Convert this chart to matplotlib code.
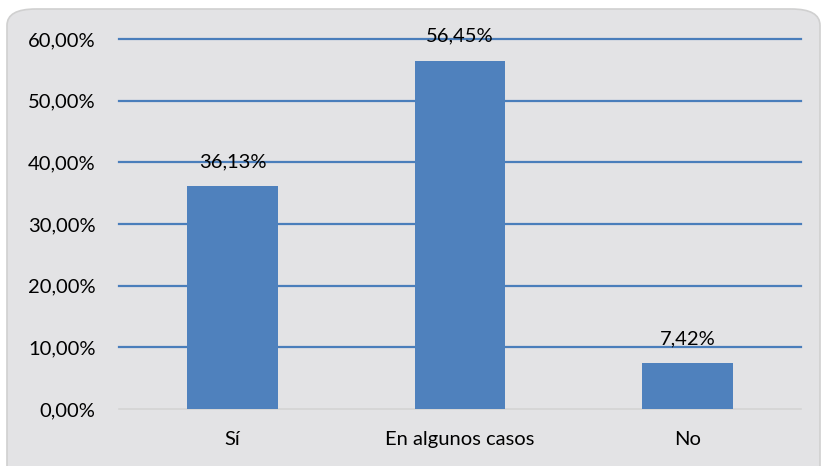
import matplotlib.pyplot as plt
from matplotlib.patches import FancyBboxPatch
from matplotlib.ticker import FuncFormatter

categories = ["Sí", "En algunos casos", "No"]
values = [36.13, 56.45, 7.42]
yticks = [0, 10, 20, 30, 40, 50, 60]

plt.rcParams['font.family'] = ['Lato', 'DejaVu Sans']

fig = plt.figure(figsize=(8.21, 4.66), dpi=100)
fig.patch.set_facecolor("white")

# chart area background (marble-ish grey) with rounded top corners
W, H = 821.0, 466.0
bg = FancyBboxPatch((7 / W, -0.05), (820 - 7) / W, 1 - 9 / H + 0.05,
                    boxstyle="round,pad=0,rounding_size=0.035",
                    transform=fig.transFigure, facecolor="#e3e3e5",
                    edgecolor="#d0d0d0", linewidth=1.2, zorder=-5)
fig.patches.append(bg)

ax = fig.add_axes([119 / W, 1 - 409 / H, (801 - 119) / W, (409 - 39) / H])
ax.set_facecolor("none")
ax.set_zorder(2)

x = range(len(categories))
ax.bar(x, values, width=0.4, color="#4f81bd", zorder=3)

ax.set_xlim(-0.5, 2.5)
ax.set_ylim(0, 60)
ax.set_yticks(yticks)
ax.yaxis.set_major_formatter(FuncFormatter(lambda v, p: f"{v:.2f}%".replace(".", ",")))
for t in yticks[1:]:
    ax.axhline(t, color="#4a7ebb", linewidth=1.6, zorder=1, clip_on=False)
ax.axhline(0, color="#d4d4d4", linewidth=1.2, zorder=2, clip_on=False)

ax.set_xticks(list(x))
ax.set_xticklabels(categories)
ax.tick_params(length=0, labelsize=14.5, colors="black")
ax.tick_params(axis="y", pad=17)
ax.tick_params(axis="x", pad=16)
for s in ax.spines.values():
    s.set_visible(False)

for i, v in enumerate(values):
    ax.text(i, v + 2.6, f"{v:.2f}%".replace(".", ","), ha="center", va="bottom",
            fontsize=14.5, zorder=4)

fig.savefig("out.png", dpi=100)
